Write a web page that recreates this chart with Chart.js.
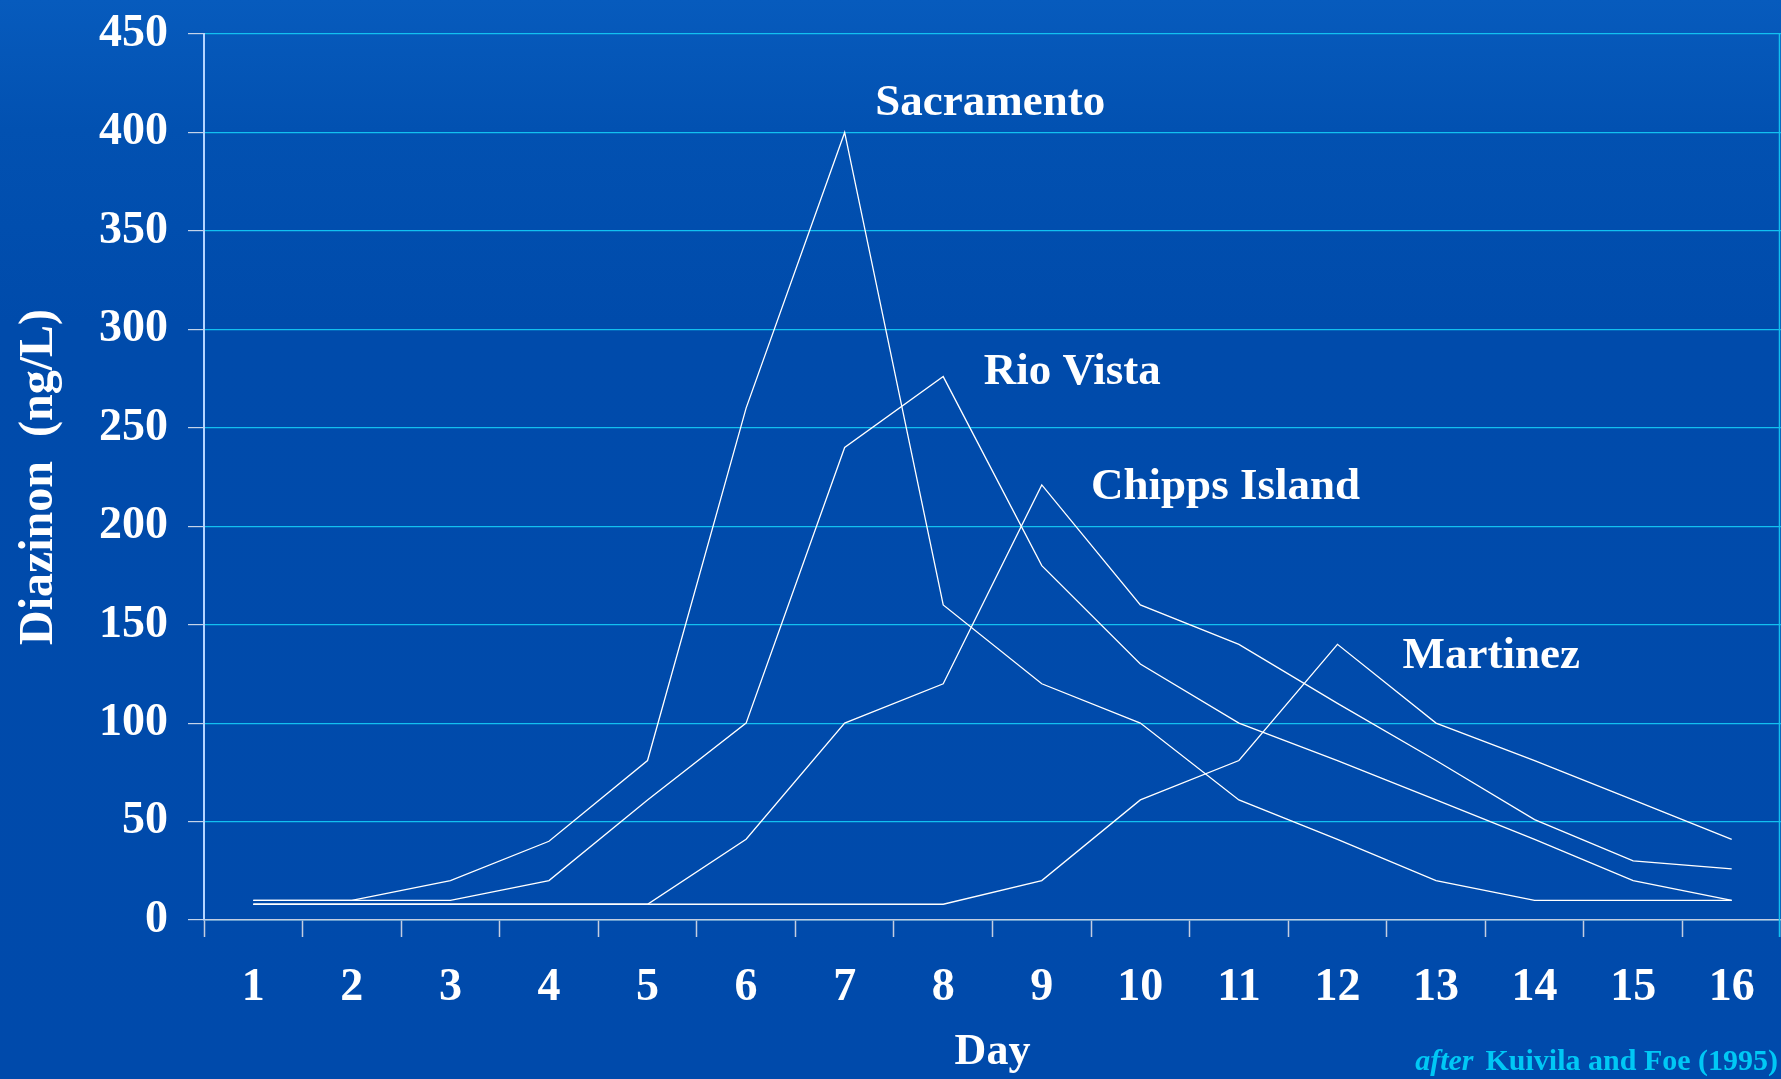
<!DOCTYPE html>
<html>
<head>
<meta charset="utf-8">
<script src="https://cdn.jsdelivr.net/npm/chart.js@4/dist/chart.umd.min.js"></script>
<style>
html,body{margin:0;padding:0;background:#004aab;overflow:hidden}
canvas{display:block}
</style>
</head>
<body>
<canvas id="c" width="1781" height="1079"></canvas>
<script>
// ---- data ----
const days = ['1','2','3','4','5','6','7','8','9','10','11','12','13','14','15','16'];
const sacramento   = [10,10,20,40,81,260,400,160,120,100,61,41,20,10,10,10];
const rioVista     = [10,10,10,20,61,100,240,276,180,130,100,81,61,41,20,10];
const chippsIsland = [8,8,8,8,8,41,100,120,221,160,140,110,81,51,30,26];
const martinez     = [8,8,8,8,8,8,8,8,20,61,81,140,100,81,61,41];
const seriesNames  = ['Sacramento','Rio Vista','Chipps Island','Martinez'];
const yMin = 0, yMax = 450, yStep = 50;
const yTitle = 'Diazinon  (ng/L)';
const xTitle = 'Day';
const sourceItalic = 'after';
const sourceText = 'Kuivila and Foe (1995)';

// ---- annotation anchors (day units, value units) ----
const labelAnchors = [
  {day: 7.31, value: 409},
  {day: 8.41, value: 272},
  {day: 9.50, value: 214},
  {day: 12.66, value: 128}
];

const SERIF = '"Liberation Serif","Times New Roman",serif';

const bgPlugin = {
  id: 'bg',
  beforeDraw(chart) {
    const ctx = chart.ctx;
    const g = ctx.createLinearGradient(0, 0, 0, chart.height);
    g.addColorStop(0, '#075bbd');
    g.addColorStop(0.12, '#0251b1');
    g.addColorStop(0.3, '#004bab');
    g.addColorStop(1, '#004aab');
    ctx.save();
    ctx.fillStyle = g;
    ctx.fillRect(0, 0, chart.width, chart.height);
    ctx.restore();
  }
};

const labelPlugin = {
  id: 'labels',
  afterDraw(chart) {
    const ctx = chart.ctx;
    const xs = chart.scales.x, ys = chart.scales.y;
    const p0 = xs.getPixelForValue(0), p1 = xs.getPixelForValue(1);
    ctx.save();
    // right edge frame line
    ctx.strokeStyle = '#12c0f0';
    ctx.lineWidth = 1.5;
    ctx.beginPath();
    ctx.moveTo(chart.chartArea.right - 1.5, chart.chartArea.top);
    ctx.lineTo(chart.chartArea.right - 1.5, chart.chartArea.bottom + 17);
    ctx.stroke();

    ctx.fillStyle = '#ffffff';
    ctx.font = 'bold 45px ' + SERIF;
    ctx.textAlign = 'left';
    ctx.textBaseline = 'alphabetic';
    seriesNames.forEach((name, i) => {
      const a = labelAnchors[i];
      const px = p0 + (a.day - 1) * (p1 - p0);
      const py = ys.getPixelForValue(a.value);
      ctx.fillText(name, px, py);
    });
    // source note
    ctx.fillStyle = '#00c8f5';
    ctx.textAlign = 'right';
    ctx.font = 'bold 30px ' + SERIF;
    const right = chart.width - 3;
    const base = chart.height - 9;
    const w2 = ctx.measureText(sourceText).width;
    ctx.fillText(sourceText, right, base);
    ctx.font = 'italic bold 30px ' + SERIF;
    ctx.fillText(sourceItalic, right - w2 - 12, base);
    ctx.restore();
  }
};

const lineStyle = {
  borderColor: '#ffffff',
  borderWidth: 1.3,
  pointRadius: 0,
  tension: 0,
  fill: false
};

new Chart(document.getElementById('c'), {
  type: 'line',
  data: {
    labels: days,
    datasets: [
      Object.assign({label: seriesNames[0], data: sacramento}, lineStyle),
      Object.assign({label: seriesNames[1], data: rioVista}, lineStyle),
      Object.assign({label: seriesNames[2], data: chippsIsland}, lineStyle),
      Object.assign({label: seriesNames[3], data: martinez}, lineStyle)
    ]
  },
  options: {
    responsive: false,
    animation: false,
    devicePixelRatio: 1,
    layout: {padding: {top: 34, right: 0, bottom: 0, left: 0}},
    plugins: {legend: {display: false}, tooltip: {enabled: false}},
    scales: {
      x: {
        type: 'category',
        offset: true,
        afterFit(scale) { scale.height = 159; },
        grid: {
          offset: true,
          drawOnChartArea: false,
          drawTicks: true,
          tickLength: 17,
          tickColor: '#c4cde0',
          tickWidth: 1.5
        },
        border: {color: '#c4cde0', width: 1.5},
        ticks: {
          color: '#ffffff',
          font: {family: SERIF, size: 46, weight: 'bold'},
          padding: 24,
          maxRotation: 0,
          autoSkip: false
        },
        title: {
          display: true,
          text: xTitle,
          color: '#ffffff',
          font: {family: SERIF, size: 44, weight: 'bold'},
          padding: {top: 0, bottom: 0}
        }
      },
      y: {
        min: yMin,
        max: yMax,
        afterFit(scale) { scale.width = 204; scale.paddingTop = 0; },
        grid: {
          color: '#12c0f0',
          lineWidth: 1.2,
          tickColor: '#c4d4ea',
          tickLength: 16,
          tickWidth: 1.2
        },
        border: {color: '#b4d4ff', width: 2},
        ticks: {
          stepSize: yStep,
          color: '#ffffff',
          font: {family: SERIF, size: 46, weight: 'bold'},
          padding: 20
        },
        title: {
          display: true,
          text: yTitle,
          color: '#ffffff',
          font: {family: SERIF, size: 48, weight: 'bold'},
          padding: {top: 11, bottom: 0}
        }
      }
    }
  },
  plugins: [bgPlugin, labelPlugin]
});
</script>
</body>
</html>
